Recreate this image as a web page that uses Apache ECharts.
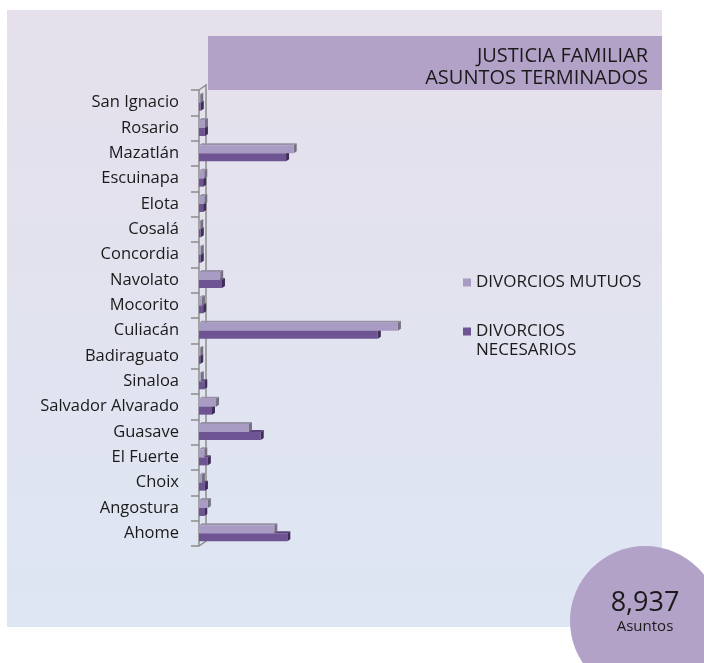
<!DOCTYPE html>
<html>
<head>
<meta charset="utf-8">
<script src="https://cdn.jsdelivr.net/npm/echarts@6/dist/echarts.min.js"></script>
<style>
html,body{margin:0;padding:0;background:#ffffff;}
#chart{width:704px;height:663px;}
</style>
</head>
<body>
<div id="chart"></div>
<script>
const categories = ['San Ignacio','Rosario','Mazatlán','Escuinapa','Elota','Cosalá','Concordia','Navolato','Mocorito','Culiacán','Badiraguato','Sinaloa','Salvador Alvarado','Guasave','El Fuerte','Choix','Angostura','Ahome'];
const mutuos = [11,53,845,47,47,11,16,189,26,1775,11,16,152,446,47,26,79,672];
const necesarios = [16,53,777,37,37,16,16,205,37,1596,11,47,116,551,79,53,47,788];
const seriesNames = ['DIVORCIOS MUTUOS','DIVORCIOS NECESARIOS'];
const titleLines = ['JUSTICIA FAMILIAR','ASUNTOS TERMINADOS'];
const totalLabel = '8,937';
const totalUnit = 'Asuntos';

const FONT = 'Open Sans';
const chart = echarts.init(document.getElementById('chart'));

function make3D(front, topC, sideC, upper) {
  return function (params, api) {
    const ci = api.value(0);
    const v = api.value(1);
    const p0 = api.coord([0, ci]);
    const p1 = api.coord([v, ci]);
    const bh = 8, d = 3, dy = 2;
    const yTop = upper ? p0[1] - bh : p0[1];
    const x0 = p0[0];
    const x1 = Math.max(p1[0], x0 + 0.6);
    return {
      type: 'group',
      children: [
        {type: 'polygon', shape: {points: [[x0, yTop], [x0 + d, yTop - dy], [x1 + d, yTop - dy], [x1, yTop]]}, style: {fill: topC}},
        {type: 'polygon', shape: {points: [[x1, yTop], [x1 + d, yTop - dy], [x1 + d, yTop + bh - dy], [x1, yTop + bh]]}, style: {fill: sideC}},
        {type: 'rect', shape: {x: x0, y: yTop, width: x1 - x0, height: bh}, style: {fill: front}}
      ]
    };
  };
}

const option = {
  backgroundColor: '#ffffff',
  animation: false,
  graphic: [
    {type: 'rect', z: -10, shape: {x: 7, y: 10, width: 655, height: 617},
     style: {fill: new echarts.graphic.LinearGradient(0, 0, 0, 1, [
       {offset: 0, color: '#e5e0ec'}, {offset: 1, color: '#dee6f3'}])}},
    {type: 'rect', z: -9, shape: {x: 208, y: 36, width: 454, height: 54}, style: {fill: '#b3a2c8'}},
    {type: 'text', z: 6, style: {text: titleLines[0], x: 648, y: 56, align: 'right', verticalAlign: 'middle',
      font: '20px "' + FONT + '"', fill: '#1a1a1a'}},
    {type: 'text', z: 6, style: {text: titleLines[1], x: 648, y: 78, align: 'right', verticalAlign: 'middle',
      font: '20px "' + FONT + '"', fill: '#1a1a1a'}},
    {type: 'polyline', z: 1, shape: {points: [[199, 90], [206, 85], [206, 541], [199, 546]]},
     style: {stroke: '#8c8c8c', lineWidth: 1.5, fill: null}},
    {type: 'circle', z: 5, shape: {cx: 645, cy: 621, r: 75}, style: {fill: '#b3a2c8'}},
    {type: 'text', z: 6, style: {text: totalLabel, x: 645, y: 603, align: 'center', verticalAlign: 'middle',
      font: '27px "' + FONT + '"', fill: '#1a1a1a'}},
    {type: 'text', z: 6, style: {text: totalUnit, x: 645, y: 627, align: 'center', verticalAlign: 'middle',
      font: '15px "' + FONT + '"', fill: '#1a1a1a'}}
  ],
  legend: [
    {data: [seriesNames[0]], left: 458, top: 268, orient: 'vertical', icon: 'rect', itemWidth: 8, itemHeight: 8,
     textStyle: {fontFamily: FONT, fontSize: 17, color: '#1a1a1a', lineHeight: 19}},
    {data: [seriesNames[1]], left: 458, top: 298, orient: 'vertical', icon: 'rect',
     itemWidth: 8, itemHeight: 8,
     formatter: function (n) { return ' \n' + n.replace(' ', '\n'); },
     textStyle: {fontFamily: FONT, fontSize: 17, color: '#1a1a1a', lineHeight: 19}}
  ],
  grid: {left: 199, top: 90, width: 470.6, height: 456},
  xAxis: {type: 'value', min: 0, max: 4200, show: false},
  yAxis: {
    type: 'category', inverse: true, data: categories,
    axisLine: {show: true, lineStyle: {color: '#8c8c8c', width: 1.5}},
    axisTick: {show: true, length: 8, lineStyle: {color: '#8c8c8c', width: 1.5}},
    axisLabel: {margin: 20, fontFamily: FONT, fontSize: 16.5, color: '#1a1a1a'},
    splitLine: {show: false}
  },
  series: [
    {name: seriesNames[1], type: 'custom', z: 2, color: '#6f5494',
     renderItem: make3D('#6f5494', '#5b447c', '#3d2d57', false),
     encode: {x: 1, y: 0}, data: necesarios.map((v, i) => [i, v])},
    {name: seriesNames[0], type: 'custom', z: 3, color: '#a99cc4',
     renderItem: make3D('#a99cc4', '#9790a6', '#74707f', true),
     encode: {x: 1, y: 0}, data: mutuos.map((v, i) => [i, v])}
  ]
};
chart.setOption(option);
</script>
</body>
</html>
